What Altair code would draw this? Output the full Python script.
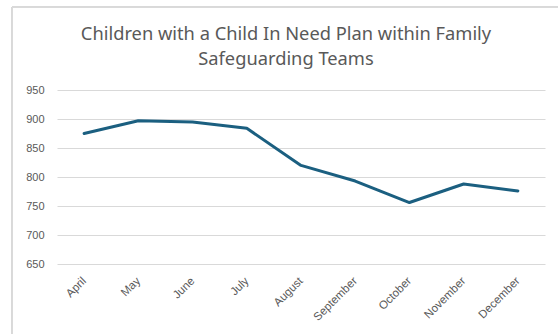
import altair as alt
import pandas as pd

months = ["April", "May", "June", "July", "August", "September", "October", "November", "December"]
children = [875, 897, 895, 884, 820, 793, 756, 788, 776]
title_lines = ["Children with a Child In Need Plan within Family", "Safeguarding Teams"]

df = pd.DataFrame({"month": months, "children": children})

grey_text = "#595959"
grid = "#D9D9D9"

line = alt.Chart(df).mark_line(color="#1B5F80", strokeWidth=3, strokeCap="round", strokeJoin="round").encode(
    x=alt.X("month:N", sort=months, title=None,
            scale=alt.Scale(type="point", padding=0.5),
            axis=alt.Axis(labelAngle=-45, labelAlign="right", labelBaseline="middle",
                          labelPadding=15, ticks=False, domain=False, grid=False,
                          labelColor=grey_text, labelFontSize=11.5, labelFont="Liberation Sans")),
    y=alt.Y("children:Q", title=None,
            scale=alt.Scale(domain=[650, 950], nice=False, zero=False),
            axis=alt.Axis(values=[650, 700, 750, 800, 850, 900, 950], ticks=False, domain=False,
                          grid=True, gridOpacity=1, gridColor=grid, gridWidth=1.2,
                          labelPadding=13,
                          labelColor=grey_text, labelFontSize=11, labelFont="Liberation Sans")),
)

# light frame around the whole chart
frame = alt.Chart(df).mark_rect(fill="transparent", stroke=grid, strokeWidth=1, clip=False).encode(
    x=alt.value(-45), x2=alt.value(506), y=alt.value(-83), y2=alt.value(250)
)

# two-line chart heading
heading = alt.Chart(pd.DataFrame({"line": title_lines, "row": [0, 1]})).mark_text(
    font="Noto Sans", fontSize=18.3, color=grey_text, align="center", baseline="middle"
).encode(
    text="line:N",
    x=alt.value(229),
    y=alt.Y("row:O", scale=alt.Scale(type="point", domain=[0, 1], range=[-55, -30], padding=0), axis=None),
)

chart = alt.layer(frame, heading, line).properties(
    width=488, height=174,
    background="white",
    autosize=alt.AutoSizeParams(type="none"),
    padding={"left": 57, "top": 90, "right": 13, "bottom": 70},
).resolve_scale(y="independent").configure_view(stroke="transparent", strokeWidth=0)

chart.save("out.html", embed_options={"renderer": "svg", "actions": False})
